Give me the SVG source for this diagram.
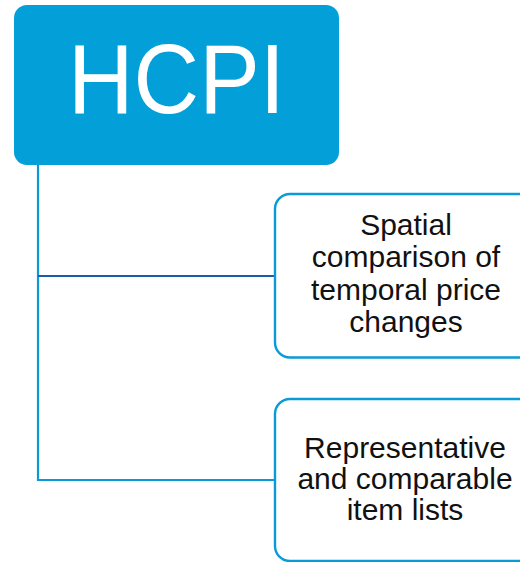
<svg xmlns="http://www.w3.org/2000/svg" width="520" height="562" viewBox="0 0 520 562">
  <style>
    .root { fill: #029fd9; }
    .root-label { font-family: "Liberation Sans", Arial, sans-serif; font-size: 99px; fill: #ffffff; text-anchor: middle; }
    .leaf { fill: #ffffff; stroke: #0a9ad8; stroke-width: 2.4; }
    .leaf-label { font-family: "Liberation Sans", Arial, sans-serif; font-size: 30px; fill: #111111; text-anchor: middle; }
    .wire { fill: none; stroke: #0a9ad8; stroke-width: 2.2; }
    .wire-dark { fill: none; stroke: #1a5ea8; stroke-width: 2.2; }
  </style>
  <rect width="520" height="562" fill="#ffffff"/>

  <!-- tree connectors -->
  <g id="connectors">
    <path class="wire" d="M38 160 V480 H276"/>
    <path class="wire-dark" d="M38 276 H276"/>
  </g>

  <g id="hcpi">
    <rect class="root" x="14" y="5" width="325" height="160" rx="13"/>
    <text class="root-label" x="176.5" y="113" textLength="217" lengthAdjust="spacingAndGlyphs">HCPI</text>
  </g>

  <g id="spatial-comparison">
    <rect class="leaf" x="275" y="194" width="270" height="163.5" rx="15"/>
    <text class="leaf-label" x="406" y="235">Spatial</text>
    <text class="leaf-label" x="406" y="267">comparison of</text>
    <text class="leaf-label" x="406" y="299.5">temporal price</text>
    <text class="leaf-label" x="406" y="331.5">changes</text>
  </g>

  <g id="item-lists">
    <rect class="leaf" x="275" y="399" width="270" height="162" rx="15"/>
    <text class="leaf-label" x="405" y="458">Representative</text>
    <text class="leaf-label" x="405" y="489">and comparable</text>
    <text class="leaf-label" x="405" y="519.5">item lists</text>
  </g>
</svg>
